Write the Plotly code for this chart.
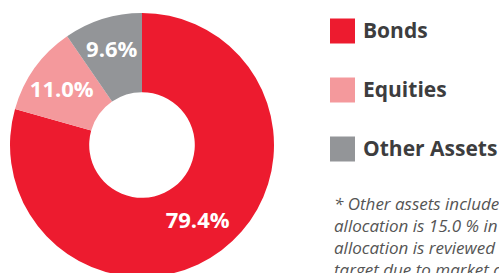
import plotly.graph_objects as go

# ---- data ----
labels = ["Bonds", "Equities", "Other Assets"]
values = [79.4, 11.0, 9.6]
colors = ["#ED1B2F", "#F4999C", "#939598"]
footnote_lines = [
    "* Other assets include cash, property and alternatives. The target",
    "allocation is 15.0 % in equities and 85.0 % in bonds. The",
    "allocation is reviewed annually and may differ from the",
    "target due to market conditions.",
]

W, H = 499, 280
FONT = "Open Sans"


def px_x(x):
    return x / W


def px_y(y):
    return 1 - y / H


fig = go.Figure(
    go.Pie(
        labels=labels,
        values=values,
        sort=False,
        direction="clockwise",
        rotation=0,
        hole=0.4,
        marker=dict(colors=colors, line=dict(width=0)),
        texttemplate="%{value:.1f}%",
        textposition="inside",
        insidetextorientation="horizontal",
        textfont=dict(family=FONT, size=22, color="white", weight="bold"),
        showlegend=False,
        hoverinfo="skip",
        domain=dict(x=[px_x(10), px_x(274)], y=[px_y(277), px_y(13)]),
    )
)

shapes = []
annotations = []
for i, (lab, col) in enumerate(zip(labels, colors)):
    yc = 31 + 59 * i
    shapes.append(dict(type="rect", xref="paper", yref="paper",
                       x0=px_x(330), x1=px_x(355), y0=px_y(yc + 12.5), y1=px_y(yc - 12.5),
                       fillcolor=col, line=dict(width=0), layer="above"))
    annotations.append(dict(xref="paper", yref="paper", x=px_x(361), y=px_y(yc - 1),
                            xanchor="left", yanchor="middle", showarrow=False,
                            text=lab, font=dict(family=FONT, size=21, color="#3d3d3e", weight="bold")))

for j, line in enumerate(footnote_lines):
    yc = 203 + 22 * j
    annotations.append(dict(xref="paper", yref="paper", x=px_x(332), y=px_y(yc),
                            xanchor="left", yanchor="middle", showarrow=False,
                            text="<i>" + line + "</i>",
                            font=dict(family=FONT, size=17, color="#555555")))

fig.update_layout(
    width=W, height=H,
    margin=dict(l=0, r=0, t=0, b=0),
    paper_bgcolor="white", plot_bgcolor="white",
    shapes=shapes, annotations=annotations,
    uniformtext=dict(minsize=22, mode="show"),
)

fig.write_html("out.html", config={"displayModeBar": False},
               post_script="document.body.style.margin='0';document.body.style.overflow='hidden';")
